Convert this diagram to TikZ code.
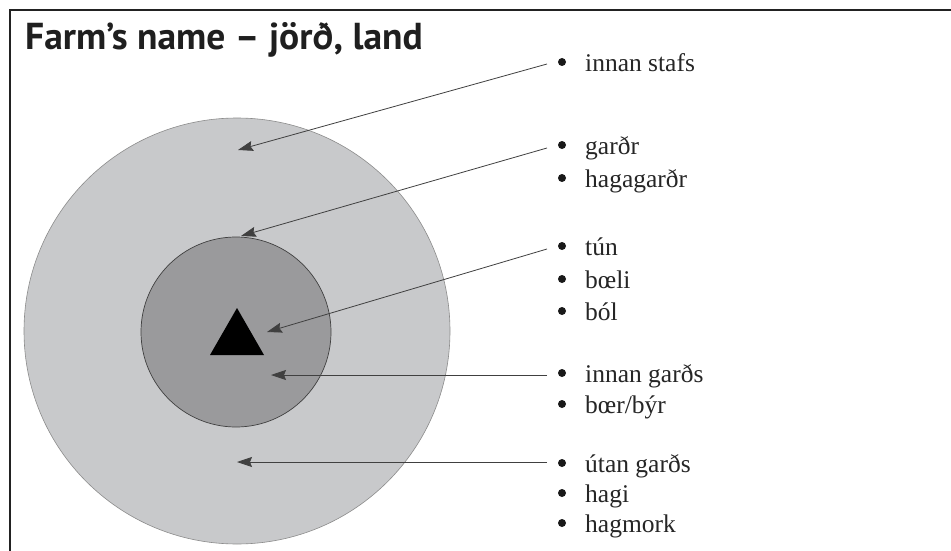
\documentclass[tikz,border=0pt]{standalone}
\usepackage{fontspec}
\setmainfont{Liberation Serif}
\newfontfamily\titlefont{PT Sans}
\usetikzlibrary{arrows.meta}
\definecolor{outerfill}{HTML}{C8C9CB}
\definecolor{innerfill}{HTML}{9A9A9C}
\definecolor{framecol}{HTML}{222222}
\tikzset{
  item/.style={anchor=base west, inner sep=0pt, font=\fontsize{25.5}{28}\selectfont, text=black!85},
  bul/.style={circle, fill=black!90, minimum size=8pt, inner sep=0pt},
  arr/.style={draw=black!75, line width=0.8pt, -{Stealth[length=15pt,width=10pt,inset=2pt]}},
  framestyle/.style={draw=framecol, line width=1.4pt},
}
\begin{document}
\begin{tikzpicture}[x=1pt,y=-1pt]
\useasboundingbox (0,0) rectangle (951,551);
\fill[white] (0,0) rectangle (951,551);
\draw[framestyle] (951,10) -- (10,10) -- (10,551);
% title
\node[anchor=base west, inner sep=0pt, font=\titlefont\bfseries\fontsize{37.5}{38}\selectfont, text=black!88] (title) at (25,50) {Farm’s name – jörð, land};
% circles
\node[circle, minimum size=426pt, inner sep=0pt, fill=outerfill, draw=black!45, line width=0.6pt] (outer) at (237,331) {};
\node[circle, minimum size=190pt, inner sep=0pt, fill=innerfill, draw=black!75, line width=0.7pt] (inner) at (236,332) {};
\fill[black] (237,308) -- (210,355) -- (264,355) -- cycle;
% arrow targets
\coordinate (a1) at (238,150);
\coordinate (a2) at (241,236);
\coordinate (a3) at (267,332);
\coordinate (a4) at (271,375);
\coordinate (a5) at (237,462);
% bullets and labels
\node[bul] (b1) at (562,62) {};   \node[item] (t1) at (585,71) {innan stafs};
\node[bul] (b2a) at (562,145) {}; \node[item] (t2a) at (585,154) {garðr};
\node[bul] (b2b) at (562,178) {}; \node[item] (t2b) at (585,187) {hagagarðr};
\node[bul] (b3a) at (562,246) {}; \node[item] (t3a) at (585,255) {tún};
\node[bul] (b3b) at (562,279) {}; \node[item] (t3b) at (585,288) {bœli};
\node[bul] (b3c) at (562,311) {}; \node[item] (t3c) at (585,320) {ból};
\node[bul] (b4a) at (562,373) {}; \node[item] (t4a) at (585,382) {innan garðs};
\node[bul] (b4b) at (562,404) {}; \node[item] (t4b) at (585,413) {bœr/býr};
\node[bul] (b5a) at (562,463) {}; \node[item] (t5a) at (585,472) {útan garðs};
\node[bul] (b5b) at (562,493) {}; \node[item] (t5b) at (585,502) {hagi};
\node[bul] (b5c) at (562,523) {}; \node[item] (t5c) at (585,532) {hagmork};
% arrows
\draw[arr] ([shift={(-15pt,-2pt)}]b1.center) -- (a1);
\draw[arr] ([shift={(-15pt,-3pt)}]b2a.center) -- (a2);
\draw[arr] ([shift={(-15pt,-3pt)}]b3a.center) -- (a3);
\draw[arr] ([shift={(-15pt,-2pt)}]b4a.center) -- (a4);
\draw[arr] ([shift={(-15pt,1pt)}]b5a.center) -- (a5);
\end{tikzpicture}
\end{document}
